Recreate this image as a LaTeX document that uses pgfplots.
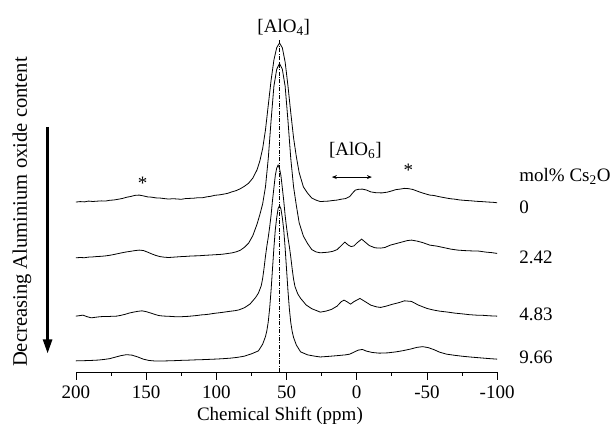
\documentclass[border=0pt]{standalone}
\usepackage{fontspec}
\setmainfont{Liberation Serif}
\usepackage{pgfplots}
\pgfplotsset{compat=1.18}
\usetikzlibrary{arrows.meta}
\begin{document}
\fontsize{19bp}{22bp}\selectfont
\begin{tikzpicture}
\begin{axis}[
  scale only axis, width=421bp, height=372bp,
  xmin=-100, xmax=200, ymin=0, ymax=372,
  x dir=reverse,
  axis x line*=bottom, axis y line=none,
  xtick={-100,-50,0,50,100,150,200},
  xticklabels={-100,-50,0,50,100,150,200},
  minor xtick={-75,-25,25,75,125,175},
  tick align=outside, major tick length=7.5bp, minor tick length=3.5bp,
  tick style={black, line width=0.8bp},
  axis line style={line width=0.9bp},
  xticklabel style={font=\fontsize{19bp}{22bp}\selectfont},
  clip=false,
]
\addplot[black, line width=0.5bp, dash pattern=on 4bp off 1.5bp on 0.8bp off 1.5bp] coordinates {(55,0)(55,333)};
% 0 mol%
\addplot[black, line width=0.8bp] coordinates {
(200,170.0)(197,170.5)(194,170.2)(191,171.0)(188,170.6)(185,170.9)(182,171.2)(179,171.0)(176,171.8)(173,172.1)(170,172.8)(167,173.6)(164,174.8)(161,175.6)(158,176.7)(155,177.0)(152,176.2)(149,175.2)(146,174.9)(143,174.2)(140,174.0)(137,173.5)(134,173.0)(131,173.4)(128,173.1)(125,172.8)(122,173.5)(119,173.7)(116,173.9)(113,174.4)(110,174.3)(107,175.2)(104,175.8)(101,176.8)(98,177.2)(95,177.9)(92,178.7)(89,180.2)(86,181.4)(83,183.3)(80,185.8)(77,188.9)(74,194.0)(71,202.3)(69,211.2)(67,223.6)(65,242.2)(63,267.0)(61,291.8)(59,312.0)(57,324.4)(55,329.0)(53,324.3)(51,310.0)(49,286.3)(47,259.5)(45,234.2)(43,215.2)(41,199.4)(38,185.2)(35,178.9)(32,174.0)(29,172.0)(26,170.5)(23,170.8)(20,171.0)(17,171.6)(14,172.0)(11,172.9)(8,173.5)(5,175.5)(3,179.0)(1,182.0)(-1,182.7)(-4,183.0)(-7,182.0)(-10,180.2)(-14,179.3)(-18,179.2)(-22,180.0)(-25,181.2)(-28,182.5)(-31,183.0)(-34,183.7)(-37,183.4)(-40,182.6)(-43,181.0)(-46,179.5)(-49,178.2)(-52,177.0)(-55,176.6)(-58,175.6)(-61,174.8)(-64,174.0)(-67,173.3)(-70,172.9)(-73,172.2)(-76,171.8)(-79,171.5)(-82,171.2)(-85,170.8)(-88,170.6)(-91,170.3)(-94,170.0)(-97,169.8)(-100,169.3)};
% 2.42 mol%
\addplot[black, line width=0.8bp] coordinates {
(200,114.3)(197,114.6)(194,114.4)(191,115.0)(188,115.2)(185,115.6)(182,115.8)(179,116.2)(176,116.8)(173,117.6)(170,118.5)(167,119.4)(164,120.2)(161,120.8)(158,121.5)(155,122.0)(152,121.6)(149,120.0)(146,118.2)(143,116.6)(140,115.5)(137,114.9)(134,114.6)(131,114.9)(128,115.2)(125,115.5)(122,115.7)(119,116.0)(116,116.2)(113,116.3)(110,116.6)(107,116.9)(104,117.1)(101,117.4)(98,117.6)(95,118.0)(92,118.6)(89,119.2)(86,120.2)(83,121.8)(80,124.8)(77,129.0)(74,136.5)(71,148.0)(69,157.5)(67,168.3)(65,185.3)(63,213.8)(61,251.7)(59,285.8)(57,302.8)(55,308.5)(53,302.8)(51,285.8)(49,251.7)(47,213.8)(45,185.3)(43,166.4)(41,149.3)(38,136.0)(35,128.5)(32,122.5)(29,120.2)(26,119.3)(23,119.6)(20,120.0)(17,120.8)(14,122.5)(11,126.5)(8.5,130.0)(6,127.0)(4,125.5)(2,126.2)(0,129.0)(-3.5,133.0)(-6,130.0)(-9,126.5)(-13,124.3)(-17,124.0)(-20,124.6)(-24,127.0)(-28,128.5)(-32,130.0)(-36,131.5)(-39,132.0)(-43,131.0)(-47,129.5)(-52,127.0)(-57,126.0)(-62,124.5)(-67,123.0)(-72,122.0)(-77,121.5)(-82,121.2)(-87,121.0)(-92,120.0)(-96,119.5)(-100,118.7)};
% 4.83 mol%
\addplot[black, line width=0.8bp] coordinates {
(200,56.0)(197,56.6)(195,57.0)(192,55.4)(189,54.3)(186,54.9)(183,55.4)(180,55.7)(177,55.6)(174,55.9)(171,56.0)(168,56.8)(165,57.8)(162,59.1)(159,60.0)(156,60.8)(153,61.3)(150,60.5)(147,59.2)(144,57.8)(141,56.6)(138,56.1)(135,55.9)(132,55.7)(129,55.4)(126,55.3)(123,55.6)(120,55.8)(117,56.2)(114,56.6)(111,57.2)(108,57.5)(105,58.0)(102,58.7)(99,59.2)(96,59.7)(93,60.3)(90,60.9)(87,61.4)(84,62.2)(80,64.4)(76,68.1)(72,74.7)(70,79.1)(68,86.5)(67,93.8)(66,104.1)(65,115.9)(64,126.2)(63,135.0)(62,145.3)(61,157.0)(60,171.7)(58,196.7)(57,204.0)(56,207.0)(55,203.6)(54,196.6)(52,171.5)(51,156.7)(50,144.8)(49,134.5)(48,125.6)(47,115.2)(46,103.4)(45,93.0)(44,85.6)(42,78.2)(40,73.8)(36,67.1)(32,63.4)(28,61.2)(26,60.0)(22,61.0)(18,62.7)(14,66.0)(11,70.5)(9,72.0)(6.5,70.0)(4.4,68.0)(2,70.5)(-2.3,73.7)(-6,70.5)(-10,67.0)(-14,65.3)(-17,64.7)(-21,66.0)(-25,67.7)(-30,69.5)(-34,71.3)(-39,70.7)(-44,67.0)(-50,63.7)(-55,62.0)(-59,61.0)(-65,60.0)(-70,59.0)(-75,58.3)(-80,57.5)(-85,57.0)(-90,56.8)(-95,56.3)(-100,56.0)};
% 9.66 mol%
\addplot[black, line width=0.8bp] coordinates {
(200,11.3)(196,11.4)(192,11.6)(188,11.8)(184,12.1)(180,12.7)(176,13.5)(172,15.0)(168,16.5)(164,17.5)(160,17.0)(156,15.2)(152,13.0)(148,11.7)(144,11.2)(140,11.1)(135,11.3)(130,11.5)(125,11.8)(120,12.0)(115,12.3)(110,12.5)(105,12.8)(100,13.1)(95,13.5)(90,14.0)(85,14.8)(80,16.0)(75,18.3)(70,21.3)(67,28.0)(65,35.6)(64,41.6)(63,50.6)(62,64.2)(61,82.2)(60,103.3)(59,124.4)(58,142.4)(57,154.5)(56,163.5)(55,166.5)(54,163.2)(53,154.4)(52,142.3)(51,124.1)(50,102.9)(49,81.7)(48,63.5)(47,49.8)(46,40.8)(45,34.7)(43,27.1)(40,20.3)(35,17.3)(30,16.0)(26,15.2)(20,15.8)(14,16.5)(8,17.3)(5,18.0)(2,20.0)(-1,22.0)(-4,22.7)(-7,21.0)(-11,19.7)(-16,19.0)(-22,19.3)(-28,20.3)(-33,21.5)(-38,23.0)(-43,24.8)(-47,25.5)(-51,24.5)(-55,22.5)(-59,20.0)(-64,18.0)(-70,16.8)(-76,15.8)(-82,15.0)(-88,14.3)(-94,13.6)(-100,13.0)};
% annotations
\node[anchor=center] at (axis cs:52,345) {[AlO\textsubscript{4}]};
\node[anchor=center] at (axis cs:1,222) {[AlO\textsubscript{6}]};
\draw[{Stealth[length=5bp,width=4bp]}-{Stealth[length=5bp,width=4bp]}, line width=0.8bp] (axis cs:17.7,195) -- (axis cs:-10.8,195);
\node[anchor=center] at (axis cs:152.5,189.3) {*};
\node[anchor=center] at (axis cs:-36.7,202) {*};
\node[anchor=base west, inner sep=0] at (axis cs:-115.7,190.3) {mol\% Cs\textsubscript{2}O};
\node[anchor=base west, inner sep=0] at (axis cs:-115.7,158.7) {0};
\node[anchor=base west, inner sep=0] at (axis cs:-115.7,108.7) {2.42};
\node[anchor=base west, inner sep=0] at (axis cs:-115.7,52) {4.83};
\node[anchor=base west, inner sep=0] at (axis cs:-115.7,8.7) {9.66};
\node[anchor=base] at (axis cs:54.7,-48) {Chemical Shift (ppm)};
\node[rotate=90, anchor=center, font=\fontsize{20.6bp}{24bp}\selectfont] at (axis cs:238.5,160) {Decreasing Aluminium oxide content};
\draw[line width=2.5bp, -{Triangle[length=14bp,width=9bp]}] (axis cs:220.2,245.3) -- (axis cs:220.2,18.7);
\coordinate (bbsw) at (axis cs:254.1,-51);
\coordinate (bbne) at (axis cs:-181.1,372);
\end{axis}
\pgfresetboundingbox
\useasboundingbox (bbsw) rectangle (bbne);
\end{tikzpicture}
\end{document}
